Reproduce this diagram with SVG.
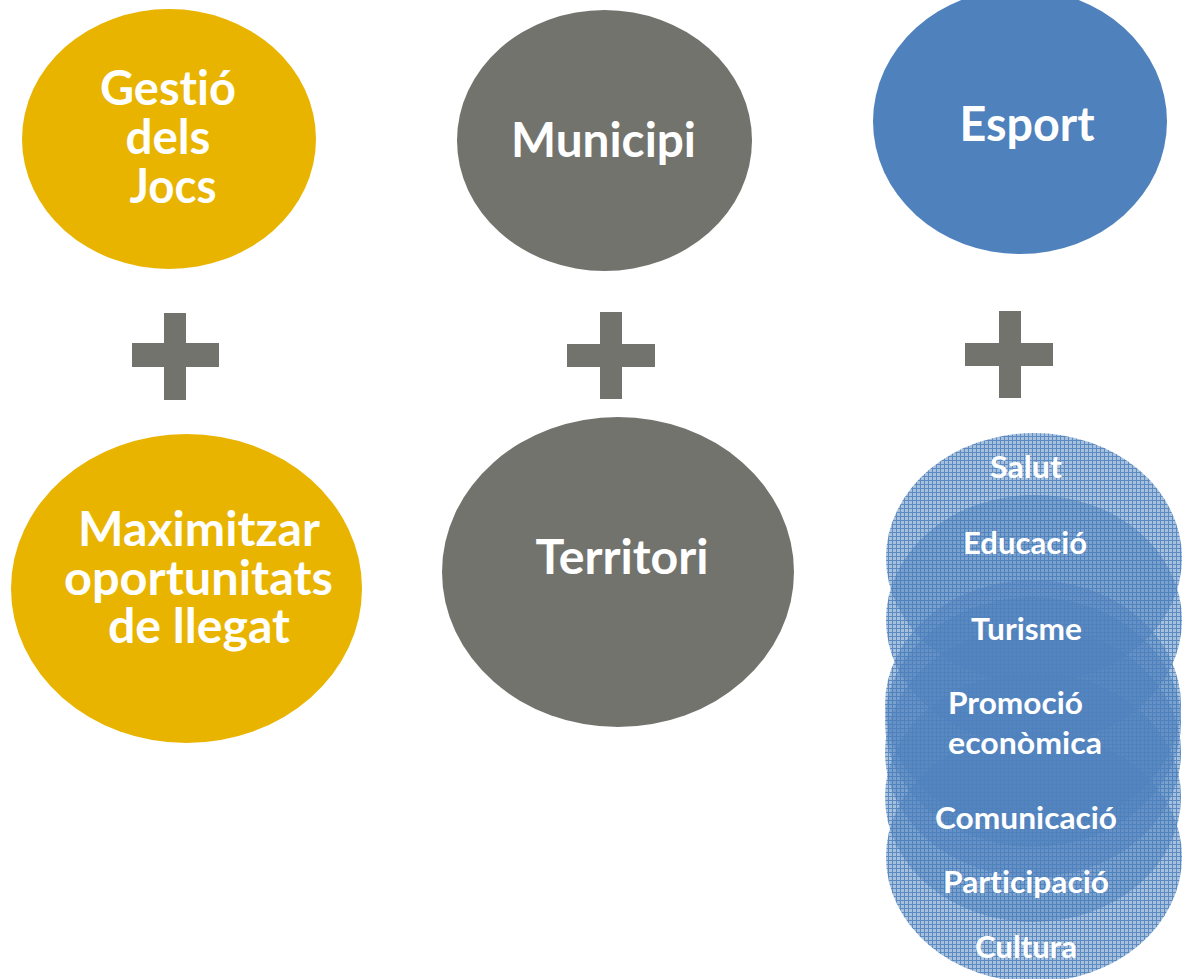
<svg xmlns="http://www.w3.org/2000/svg" width="1191" height="979" viewBox="0 0 1191 979">
<defs>
<style>
.lbl{font-family:Lato,"Open Sans","Liberation Sans",sans-serif;font-weight:bold;fill:#FFFFFF;text-anchor:middle;font-variant-ligatures:none;font-feature-settings:"liga" 0,"clig" 0}
.big{font-size:47px}
.sm{font-size:31px}
.gold{fill:#E8B400}
.gray{fill:#73736E}
.blue{fill:#4F81BD}
.plus{fill:#73736E}
.st{fill:url(#hatch)}
</style>
<pattern id="hatch" width="4" height="4" patternUnits="userSpaceOnUse">
<rect width="4" height="4" fill="#4F81BD" fill-opacity="0.5"/>
<rect width="4" height="1" fill="#4F81BD" fill-opacity="0.85"/>
<rect y="1" width="1" height="3" fill="#4F81BD" fill-opacity="0.85"/>
</pattern>
</defs>
<rect width="1191" height="979" fill="#FFFFFF"/>

<g id="gestio">
<ellipse class="gold" cx="169" cy="139" rx="147" ry="130"/>
<text class="lbl big" x="168" y="105" textLength="136" lengthAdjust="spacingAndGlyphs">Gestió</text>
<text class="lbl big" x="168" y="154" textLength="85" lengthAdjust="spacingAndGlyphs">dels</text>
<text class="lbl big" x="173" y="203" textLength="87" lengthAdjust="spacingAndGlyphs">Jocs</text>
</g>

<g id="municipi">
<ellipse class="gray" cx="604.5" cy="140.5" rx="147.5" ry="130.5"/>
<text class="lbl big" x="603.5" y="157" textLength="185" lengthAdjust="spacingAndGlyphs">Municipi</text>
</g>

<g id="esport">
<ellipse class="blue" cx="1020" cy="121.5" rx="147" ry="132.5"/>
<text class="lbl big" x="1027" y="141" textLength="135" lengthAdjust="spacingAndGlyphs">Esport</text>
</g>

<g id="plus1" class="plus">
<rect x="164" y="313" width="22" height="87"/>
<rect x="132" y="343" width="87" height="24"/>
</g>
<g id="plus2" class="plus">
<rect x="600" y="312" width="22" height="87"/>
<rect x="567" y="344" width="88" height="23"/>
</g>
<g id="plus3" class="plus">
<rect x="999" y="311" width="22" height="87"/>
<rect x="965" y="343" width="88" height="23"/>
</g>

<g id="maximitzar">
<ellipse class="gold" cx="186.5" cy="588.5" rx="175.5" ry="154.5"/>
<text class="lbl big" x="199" y="546" textLength="242" lengthAdjust="spacingAndGlyphs">Maximitzar</text>
<text class="lbl big" x="198.5" y="595" textLength="269" lengthAdjust="spacingAndGlyphs">oportunitats</text>
<text class="lbl big" x="199" y="643" textLength="182" lengthAdjust="spacingAndGlyphs">de llegat</text>
</g>

<g id="territori">
<ellipse class="gray" cx="618" cy="572" rx="176" ry="155"/>
<text class="lbl big" x="622" y="574" textLength="173" lengthAdjust="spacingAndGlyphs">Territori</text>
</g>

<g id="stack">
<ellipse class="st" cx="1034" cy="558" rx="148" ry="125"/>
<ellipse class="st" cx="1034" cy="620" rx="148" ry="125"/>
<ellipse class="st" cx="1033" cy="705" rx="148" ry="125"/>
<ellipse class="st" cx="1033" cy="722" rx="148" ry="125"/>
<ellipse class="st" cx="1033" cy="752" rx="148" ry="125"/>
<ellipse class="st" cx="1033" cy="797" rx="148" ry="125"/>
<ellipse class="st" cx="1034" cy="857" rx="148" ry="125"/>
</g>
<g id="stack-labels">
<text class="lbl sm" x="1026" y="478" textLength="72" lengthAdjust="spacingAndGlyphs">Salut</text>
<text class="lbl sm" x="1025" y="554" textLength="124" lengthAdjust="spacingAndGlyphs">Educació</text>
<text class="lbl sm" x="1026.5" y="640" textLength="111" lengthAdjust="spacingAndGlyphs">Turisme</text>
<text class="lbl sm" x="1015.5" y="714" textLength="135" lengthAdjust="spacingAndGlyphs">Promoció</text>
<text class="lbl sm" x="1025" y="754" textLength="154" lengthAdjust="spacingAndGlyphs">econòmica</text>
<text class="lbl sm" x="1026" y="829" textLength="182" lengthAdjust="spacingAndGlyphs">Comunicació</text>
<text class="lbl sm" x="1026" y="893" textLength="166" lengthAdjust="spacingAndGlyphs">Participació</text>
<text class="lbl sm" x="1026" y="958" textLength="102" lengthAdjust="spacingAndGlyphs">Cultura</text>
</g>
</svg>
